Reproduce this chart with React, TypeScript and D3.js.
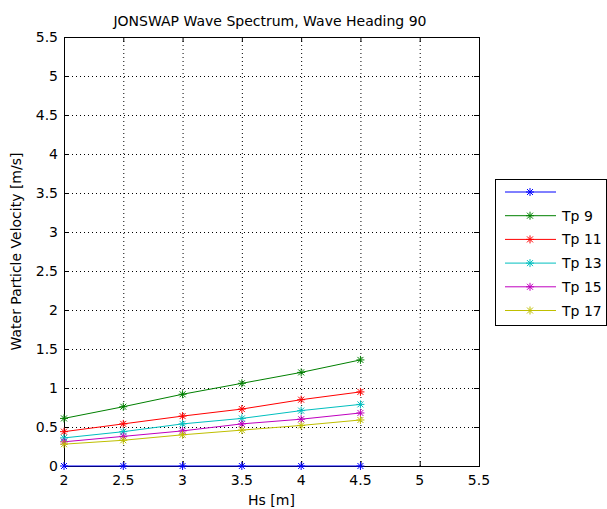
import React, { useEffect, useRef } from "react";
import * as d3 from "d3";

const hs = [2, 2.5, 3, 3.5, 4, 4.5];
const seriesNames = ["", "Tp 9", "Tp 11", "Tp 13", "Tp 15", "Tp 17"];
const blank = [0, 0, 0, 0, 0, 0];
const tp9 = [0.61, 0.76, 0.92, 1.06, 1.2, 1.36];
const tp11 = [0.44, 0.54, 0.64, 0.73, 0.85, 0.95];
const tp13 = [0.36, 0.44, 0.54, 0.61, 0.71, 0.79];
const tp15 = [0.31, 0.38, 0.45, 0.54, 0.6, 0.68];
const tp17 = [0.28, 0.33, 0.4, 0.46, 0.52, 0.59];
const colors = ["#0000ff", "#008000", "#ff0000", "#00bfbf", "#bf00bf", "#bfbf00"];
const xTicks = [2, 2.5, 3, 3.5, 4, 4.5, 5, 5.5];
const yTicks = [0, 0.5, 1, 1.5, 2, 2.5, 3, 3.5, 4, 4.5, 5, 5.5];

const W = 607, H = 509;
const L = 64, R = 479, T = 37, B = 466;
const FONT = "DejaVu Sans, Verdana, sans-serif";

export default function App() {
  const ref = useRef<SVGSVGElement>(null);
  useEffect(() => {
    const svg = d3.select(ref.current);
    svg.selectAll("*").remove();
    const x = d3.scaleLinear().domain([2, 5.5]).range([L, R]);
    const y = d3.scaleLinear().domain([0, 5.5]).range([B, T]);
    const data = [blank, tp9, tp11, tp13, tp15, tp17];

    svg.append("rect").attr("width", W).attr("height", H).attr("fill", "#fff");

    const g = svg.append("g");
    // grid
    g.selectAll(".gx").data(xTicks.slice(1, -1)).join("line")
      .attr("x1", d => x(d) + 0.5).attr("x2", d => x(d) + 0.5).attr("y1", T).attr("y2", B)
      .attr("stroke", "#000").attr("stroke-dasharray", "1,3").attr("stroke-width", 1);
    g.selectAll(".gy").data(yTicks.slice(1, -1)).join("line")
      .attr("y1", d => y(d) + 0.5).attr("y2", d => y(d) + 0.5).attr("x1", L).attr("x2", R)
      .attr("stroke", "#000").attr("stroke-dasharray", "1,3").attr("stroke-width", 1);

    // ticks inward
    const tl = 5;
    xTicks.forEach(t => {
      g.append("line").attr("x1", x(t) + 0.5).attr("x2", x(t) + 0.5).attr("y1", B).attr("y2", B - tl).attr("stroke", "#000");
      g.append("line").attr("x1", x(t) + 0.5).attr("x2", x(t) + 0.5).attr("y1", T).attr("y2", T + tl).attr("stroke", "#000");
    });
    yTicks.forEach(t => {
      g.append("line").attr("y1", y(t) + 0.5).attr("y2", y(t) + 0.5).attr("x1", L).attr("x2", L + tl).attr("stroke", "#000");
      g.append("line").attr("y1", y(t) + 0.5).attr("y2", y(t) + 0.5).attr("x1", R).attr("x2", R - tl).attr("stroke", "#000");
    });

    // box
    g.append("rect").attr("x", L + 0.5).attr("y", T + 0.5).attr("width", R - L).attr("height", B - T)
      .attr("fill", "none").attr("stroke", "#000");

    // tick labels
    g.selectAll(".xl").data(xTicks).join("text")
      .attr("x", d => x(d)).attr("y", B + 19).attr("text-anchor", "middle")
      .attr("font-family", FONT).attr("font-size", 14).text(d => String(d));
    g.selectAll(".yl").data(yTicks).join("text")
      .attr("x", L - 6).attr("y", d => y(d) + 5).attr("text-anchor", "end")
      .attr("font-family", FONT).attr("font-size", 14).text(d => String(d));

    const star = (sel: any, cx: number, cy: number, c: string) => {
      const s = 4, d = 3;
      const p = `M${cx - s},${cy}L${cx + s},${cy}M${cx},${cy - s}L${cx},${cy + s}M${cx - d},${cy - d}L${cx + d},${cy + d}M${cx - d},${cy + d}L${cx + d},${cy - d}`;
      sel.append("path").attr("d", p).attr("stroke", c).attr("stroke-width", 1).attr("fill", "none");
    };

    const line = d3.line<number>().x((_, i) => x(hs[i])).y(d => y(d));
    data.forEach((s, k) => {
      g.append("path").attr("d", line(s)).attr("fill", "none").attr("stroke", colors[k]).attr("stroke-width", 1);
      s.forEach((v, i) => star(g, x(hs[i]), y(v), colors[k]));
    });

    // title & labels
    svg.append("text").attr("x", 270).attr("y", 26).attr("text-anchor", "middle")
      .attr("font-family", FONT).attr("font-size", 14).text("JONSWAP Wave Spectrum, Wave Heading 90");
    svg.append("text").attr("x", (L + R) / 2).attr("y", 505).attr("text-anchor", "middle")
      .attr("font-family", FONT).attr("font-size", 14).text("Hs [m]");
    svg.append("text").attr("transform", `translate(21,${(T + B) / 2}) rotate(-90)`).attr("text-anchor", "middle")
      .attr("font-family", FONT).attr("font-size", 14).text("Water Particle Velocity [m/s]");

    // legend
    const lg = svg.append("g");
    lg.append("rect").attr("x", 495.5).attr("y", 179.5).attr("width", 111).attr("height", 146)
      .attr("fill", "#fff").attr("stroke", "#000");
    seriesNames.forEach((n, k) => {
      const yy = 192 + k * 23.7;
      lg.append("line").attr("x1", 505).attr("x2", 556).attr("y1", yy).attr("y2", yy)
        .attr("stroke", colors[k]).attr("stroke-width", 1);
      star(lg, 530, yy, colors[k]);
      lg.append("text").attr("x", 562).attr("y", yy + 5).attr("font-family", FONT).attr("font-size", 14).text(n);
    });
  }, []);
  return (
    <svg ref={ref} width={W} height={H} style={{ position: "absolute", left: 0, top: 0 }} />
  );
}
